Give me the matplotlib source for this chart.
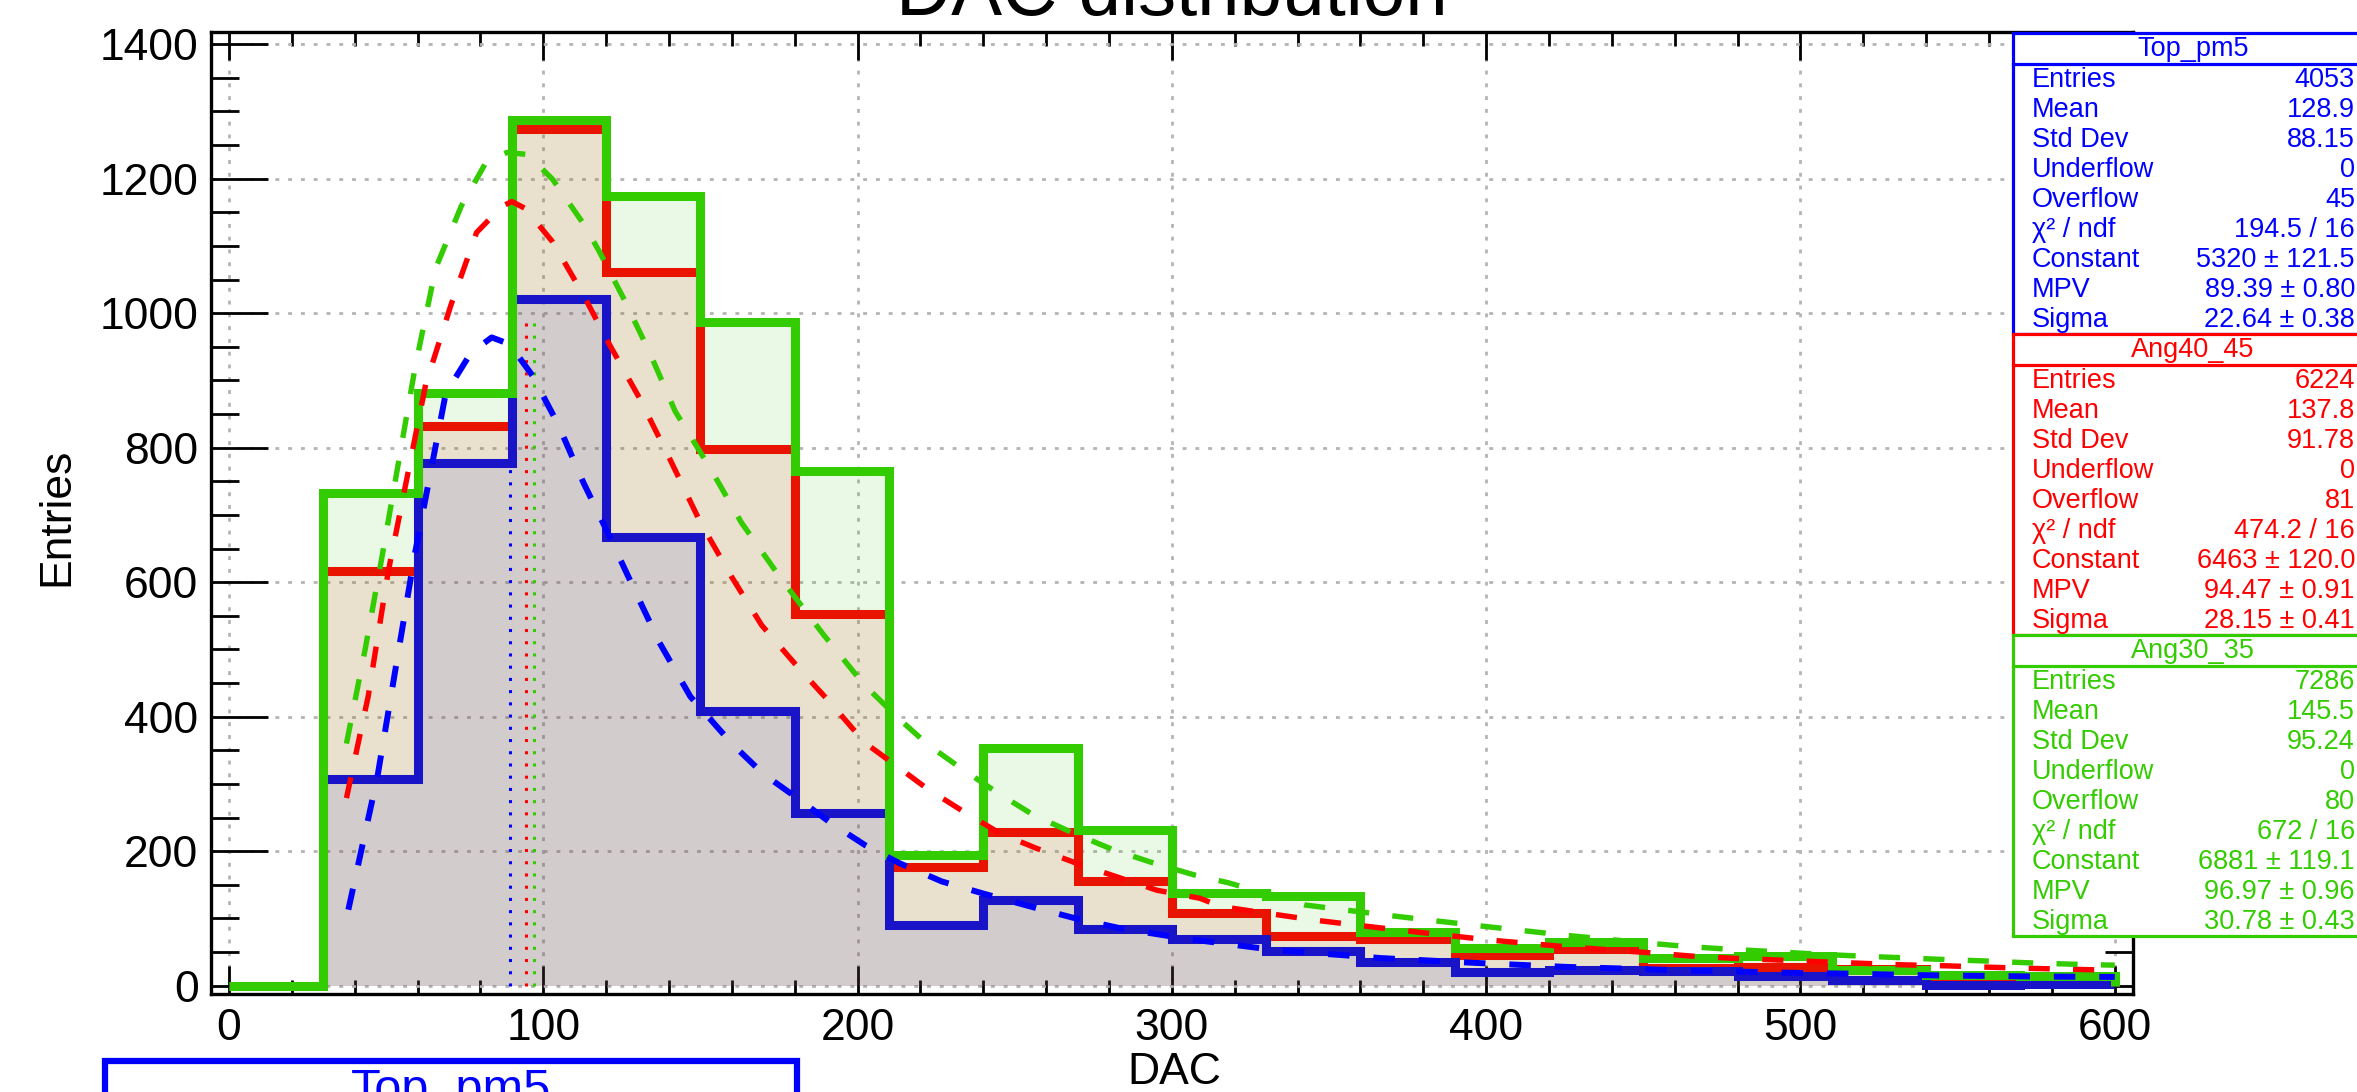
import numpy as np
import matplotlib
matplotlib.use('Agg')
import matplotlib.pyplot as plt
from matplotlib.patches import Rectangle
from matplotlib.lines import Line2D
from matplotlib.ticker import MultipleLocator

plt.rcParams['font.family'] = ['Liberation Sans', 'DejaVu Sans']

W, H = 2357, 1092

# histogram binning (DAC), 20 bins of 30
edges = np.arange(0, 601, 30)

# bin contents
top_pm5 = [0, 307, 777, 1021, 667, 408, 257, 90, 127, 84, 69, 52, 35, 20, 23, 22, 15, 8, 1, 3]
ang40_45 = [0, 616, 833, 1274, 1062, 798, 553, 176, 228, 155, 108, 74, 69, 46, 54, 26, 28, 25, 8, 7]
ang30_35 = [0, 732, 881, 1287, 1175, 987, 765, 194, 353, 231, 138, 133, 80, 56, 65, 41, 44, 24, 16, 14]

# landau fit curves
top_fit_x = [38, 47.3, 59, 69, 77, 83.6, 89.3, 96.6, 104.7, 112.8, 121, 129, 137, 146.8, 160, 170,
             181.7, 191.5, 202.4, 213.4, 226.8, 240, 254.8, 269.4, 284, 303.5, 332.7, 366.8, 396,
             425.2, 452, 465.8, 480, 493.7, 507, 520, 534, 547.4, 561, 574.5, 588, 600]
top_fit_y = [113, 312, 638, 881, 941, 964, 954, 907, 835, 748, 669, 589, 510, 430, 360, 315,
             276, 242, 209, 182, 155, 137, 118, 100, 85, 70.5, 53, 41, 34,
             28, 24.3, 22.3, 21, 19.5, 18.5, 17.5, 16, 15, 14.5, 13.6, 13.3, 13]

ang40_fit_x = [37.4, 44.3, 50.7, 62.6, 70.7, 78.8, 86.9, 90, 94.2, 103, 112.8, 121, 130.6, 140.4,
               150, 159.8, 169.5, 181.7, 191.5, 202.4, 213.5, 222, 233, 245.3, 256.9, 269.7, 282.4,
               295.2, 308.9, 315.7, 344.9, 371.7, 400.9, 425.2, 452, 465.4, 478.6, 492.3, 505.7,
               519.5, 532.8, 546.7, 559.8, 573, 587, 600]
ang40_fit_y = [279, 430, 616, 894, 1013, 1120, 1159, 1166, 1156, 1106, 1027, 954, 874, 782,
               689, 609, 536, 470, 420, 361, 323, 293.5, 261, 226.6, 204.3, 182, 162,
               142, 130, 117.6, 97.8, 83, 68, 58, 49, 44, 40.7, 38.3, 35.7,
               33.3, 31, 29.5, 27.5, 25.8, 24.3, 23]

ang30_fit_x = [37.4, 43.3, 48.6, 59.3, 65.8, 73.9, 82, 88.5, 95, 103, 112.8, 117.7, 125.8, 133.9,
               142, 153.3, 163, 176, 189, 202, 213.5, 222.5, 233, 244.8, 255.9, 268.6, 281.4,
               294.1, 306.9, 318, 342.4, 371.7, 396, 425.2, 452, 464.8, 478, 491.9, 505, 519,
               532, 545.4, 559, 572.5, 586.3, 600]
ang30_fit_y = [360, 499, 635, 921, 1067, 1159, 1226, 1239, 1236, 1199, 1133, 1093, 1020, 941,
               854, 768, 689, 603, 523, 448, 395.5, 358, 323, 286, 254, 227, 202,
               182.5, 165, 153, 120, 103, 90, 75, 63, 58, 54, 50.6, 47, 44,
               41.6, 39, 36.7, 34, 32, 30.5]

mpv = [89.39, 94.47, 96.97]

# stats boxes
box_names = ['Top_pm5', 'Ang40_45', 'Ang30_35']
row_labels = ['Entries', 'Mean', 'Std Dev', 'Underflow', 'Overflow', 'χ² / ndf', 'Constant', 'MPV', 'Sigma']
top_vals = ['4053', '128.9', '88.15', '0', '45', '194.5 / 16', '5320 ± 121.5', '89.39 ± 0.80', '22.64 ± 0.38']
ang40_vals = ['6224', '137.8', '91.78', '0', '81', '474.2 / 16', '6463 ± 120.0', '94.47 ± 0.91', '28.15 ± 0.41']
ang30_vals = ['7286', '145.5', '95.24', '0', '80', '672 / 16', '6881 ± 119.1', '96.97 ± 0.96', '30.78 ± 0.43']

c_blue, c_red, c_green = '#1a14c8', '#e81400', '#33cc00'
f_blue, f_red, f_green = '#0000ff', '#ff0000', '#33cc00'

fig = plt.figure(figsize=(W / 100, H / 100), dpi=100)
ax = fig.add_axes([211 / W, 1 - 994.3 / H, (2133 - 211) / W, (994.3 - 32.3) / H])

# fills first (transparent), green -> red -> blue
for vals, col in [(ang30_35, c_green), (ang40_45, c_red), (top_pm5, c_blue)]:
    ax.stairs(vals, edges, fill=True, color=col, alpha=0.1, lw=0, zorder=1)

# mpv markers
for m, col in zip(mpv, [f_blue, f_red, f_green]):
    ax.plot([m, m], [0, 995], color=col, lw=2.2, linestyle=(0, (1, 3)), zorder=2)

# outlines
for vals, col, z in [(ang40_45, c_red, 3), (top_pm5, c_blue, 4), (ang30_35, c_green, 5)]:
    ax.stairs(vals, edges, baseline=0, color=col, lw=6.5, zorder=z, joinstyle='miter')

# fits
ax.plot(top_fit_x, top_fit_y, color=f_blue, lw=4.3, linestyle=(0, (3.6, 4)), zorder=6)
ax.plot(ang40_fit_x, ang40_fit_y, color=f_red, lw=3.9, linestyle=(0, (3.9, 4.3)), zorder=6)
ax.plot(ang30_fit_x, ang30_fit_y, color=f_green, lw=3.9, linestyle=(0, (3.9, 4.3)), zorder=6)

ax.set_xlim(-5.7, 605.8)
ax.set_ylim(-12.8, 1417.7)
ax.xaxis.set_major_locator(MultipleLocator(100))
ax.xaxis.set_minor_locator(MultipleLocator(20))
ax.yaxis.set_major_locator(MultipleLocator(200))
ax.yaxis.set_minor_locator(MultipleLocator(50))
ax.grid(True, which='major', color='#b4b4b4', lw=2, linestyle=(0, (1.4, 3.2)))
ax.set_axisbelow(True)
ax.tick_params(which='both', direction='in', top=True, right=True, width=2, color='black')
ax.tick_params(axis='x', which='major', length=20.5, pad=10, labelsize=32)
ax.tick_params(axis='x', which='minor', length=10)
ax.tick_params(axis='y', which='major', length=41, pad=9, labelsize=32)
ax.tick_params(axis='y', which='minor', length=20.5)
for s in ax.spines.values():
    s.set_linewidth(2.4)

fig.text(1172 / W, 1 - 15 / H, 'DAC distribution', ha='center', va='baseline', fontsize=55)
fig.text(57 / W, 1 - 517 / H, 'Entries', rotation=90, ha='center', va='center', fontsize=32)
fig.text(1174 / W, 1 - 1052 / H, 'DAC', ha='center', va='top', fontsize=32)


def stats_box(top, col, name, vals):
    fig.add_artist(Rectangle((2013 / W, 1 - (top + 301) / H), (2420 - 2013) / W, 301 / H,
                             transform=fig.transFigure, facecolor='white', edgecolor=col, lw=2.3, zorder=2))
    fig.add_artist(Line2D([2013 / W, 1.02], [1 - (top + 30.6) / H] * 2, color=col, lw=2.3, zorder=2.1))
    fig.text(2193 / W, 1 - (top + 16) / H, name, ha='center', va='center', color=col, fontsize=19.5)
    for i, (lab, v) in enumerate(zip(row_labels, vals)):
        y = 1 - (top + 47 + 30 * i) / H
        fig.text(2032 / W, y, lab, ha='left', va='center', color=col, fontsize=19.5)
        fig.text(2355 / W, y, v, ha='right', va='center', color=col, fontsize=19.5)


stats_box(33, f_blue, box_names[0], top_vals)
stats_box(334, f_red, box_names[1], ang40_vals)
stats_box(635, c_green, box_names[2], ang30_vals)

# legend box cut by the canvas edge
fig.add_artist(Rectangle((105 / W, 1 - 1140 / H), (797 - 105) / W, (1140 - 1061) / H,
                         transform=fig.transFigure, facecolor='white', edgecolor=f_blue, lw=4.5, zorder=2))
fig.text(451 / W, 1 - 1068 / H, 'Top_pm5', ha='center', va='top', color=f_blue, fontsize=35)

fig.savefig('out.png', dpi=100)
